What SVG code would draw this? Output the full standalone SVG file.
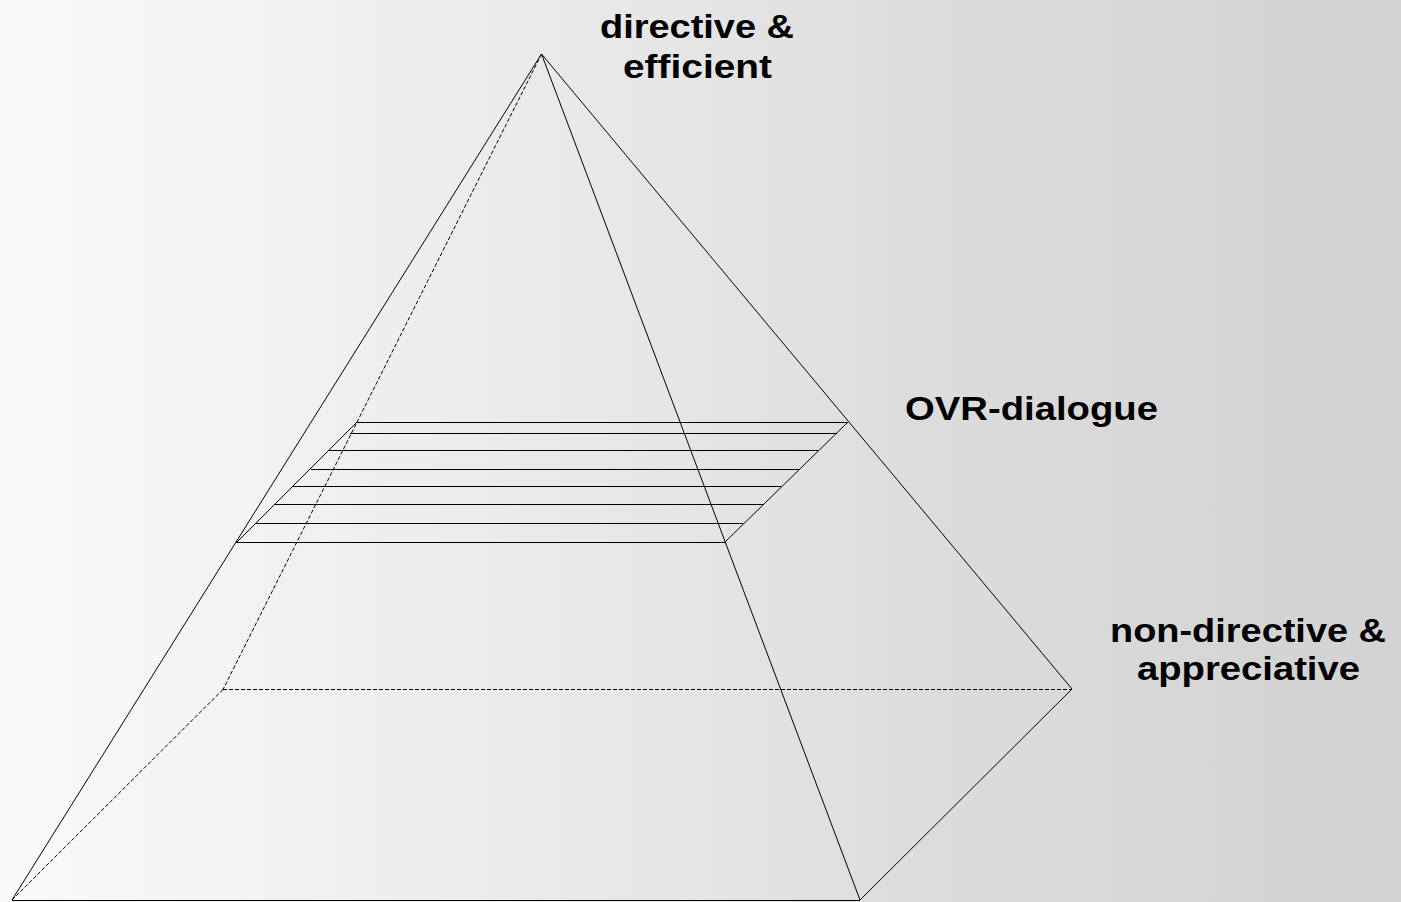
<svg xmlns="http://www.w3.org/2000/svg" width="1401" height="902" viewBox="0 0 1401 902">
  <defs>
    <linearGradient id="bg" x1="0" y1="0" x2="1401" y2="0" gradientUnits="userSpaceOnUse">
      <stop offset="0" stop-color="#fafafa"/>
      <stop offset="0.5" stop-color="#e5e5e5"/>
      <stop offset="0.67" stop-color="#dcdcdc"/>
      <stop offset="1" stop-color="#d2d2d2"/>
    </linearGradient>
  </defs>
  <style>
    .solid { fill: none; stroke: #000; stroke-width: 1; }
    .dash { fill: none; stroke: #000; stroke-width: 1; stroke-dasharray: 4 2; }
    .hatch { fill: none; stroke: #000; stroke-width: 1; }
    .lbl { font-family: "Liberation Sans", Arial, sans-serif; font-weight: bold; font-size: 34px; fill: #000; }
  </style>
  <rect x="0" y="0" width="1401" height="902" fill="url(#bg)"/>

  <g id="pyramid-hidden-edges">
    <line class="dash" x1="541.5" y1="54" x2="223" y2="689.5"/>
    <line class="dash" x1="12" y1="900" x2="223" y2="689.5"/>
    <line class="dash" x1="223" y1="689.5" x2="1072" y2="689.5"/>
  </g>

  <g id="pyramid-edges">
    <line class="solid" x1="541.5" y1="54" x2="12" y2="900"/>
    <line class="solid" x1="541.5" y1="54" x2="860" y2="900"/>
    <line class="solid" x1="541.5" y1="54" x2="1072" y2="689"/>
    <line class="solid" x1="860" y1="900" x2="1072" y2="689"/>
    <line class="solid" x1="12" y1="900.5" x2="860" y2="900.5"/>
  </g>

  <g id="ovr-plane">
    <line class="hatch" x1="357" y1="422" x2="236" y2="543"/>
    <line class="hatch" x1="848" y1="422" x2="724" y2="543"/>
    <line class="hatch" x1="357" y1="422.5" x2="848" y2="422.5"/>
    <line class="hatch" x1="350" y1="433.5" x2="837" y2="433.5"/>
    <line class="hatch" x1="329" y1="450.5" x2="818" y2="450.5"/>
    <line class="hatch" x1="311" y1="469.5" x2="799" y2="469.5"/>
    <line class="hatch" x1="293" y1="486.5" x2="781" y2="486.5"/>
    <line class="hatch" x1="275" y1="504.5" x2="763" y2="504.5"/>
    <line class="hatch" x1="256" y1="523.5" x2="743" y2="523.5"/>
    <line class="hatch" x1="236" y1="542.5" x2="724" y2="542.5"/>
  </g>

  <g id="label-top">
    <text class="lbl" x="600" y="38" textLength="194" lengthAdjust="spacingAndGlyphs">directive &amp;</text>
    <text class="lbl" x="623" y="77.5" textLength="149" lengthAdjust="spacingAndGlyphs">efficient</text>
  </g>
  <g id="label-middle">
    <text class="lbl" x="905" y="420" textLength="253" lengthAdjust="spacingAndGlyphs">OVR-dialogue</text>
  </g>
  <g id="label-bottom">
    <text class="lbl" x="1110" y="642" textLength="276" lengthAdjust="spacingAndGlyphs">non-directive &amp;</text>
    <text class="lbl" x="1137" y="679.5" textLength="223" lengthAdjust="spacingAndGlyphs">appreciative</text>
  </g>
</svg>
